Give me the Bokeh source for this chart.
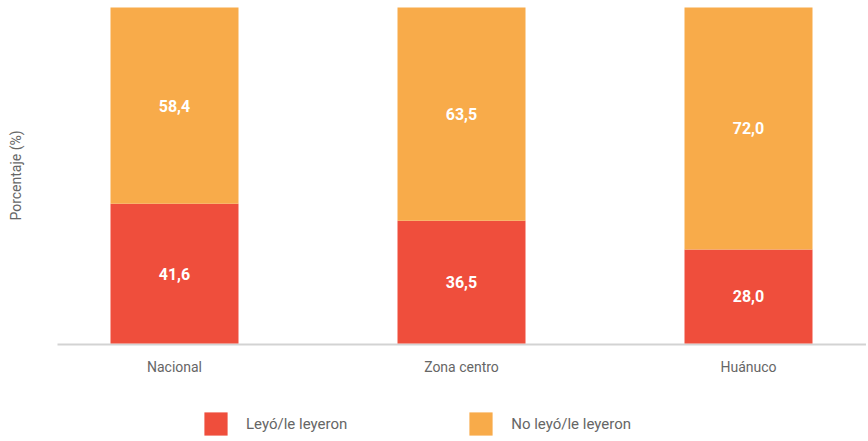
import math
from bokeh.plotting import figure
from bokeh.models import (ColumnDataSource, Range1d, Legend, LegendItem, LabelSet, Label,
                          BoxAnnotation)
from bokeh.core.properties import value
from bokeh.embed import file_html
from bokeh.resources import INLINE

categories = ["Nacional", "Zona centro", "Huánuco"]
leyo = [41.6, 36.5, 28.0]
no_leyo = [58.4, 63.5, 72.0]
series_names = ["Leyó/le leyeron", "No leyó/le leyeron"]
y_title = "Porcentaje (%)"

RED = "#EF4E3C"
ORANGE = "#F8AB4A"
GREY_TXT = "#666666"
FONT = "Roboto"

W, H = 866, 440
PX_PER_CAT = 287.0
PX_PER_PCT = 3.36
x_start = 0.5 - 174 / PX_PER_CAT
y_top = 100 + 7 / PX_PER_PCT

xs = [i + 0.5 for i in range(len(categories))]
src = ColumnDataSource(dict(
    x=xs,
    cat=categories,
    base=[0] * len(categories),
    top1=leyo,
    top2=[a + b for a, b in zip(leyo, no_leyo)],
    y1=[a / 2 for a in leyo],
    y2=[a + b / 2 for a, b in zip(leyo, no_leyo)],
    t1=[f"{v:.1f}".replace(".", ",") for v in leyo],
    t2=[f"{v:.1f}".replace(".", ",") for v in no_leyo],
))

p = figure(frame_width=W, frame_height=H, output_backend="svg", toolbar_location=None,
           x_range=Range1d(x_start, x_start + W / PX_PER_CAT),
           y_range=Range1d(y_top - H / PX_PER_PCT, y_top),
           x_axis_location=None, y_axis_location=None,
           min_border_left=0, min_border_right=0, min_border_top=0, min_border_bottom=0)
p.outline_line_color = None
p.grid.grid_line_color = None

r1 = p.vbar(x="x", width=0.446, bottom="base", top="top1", source=src, fill_color=RED, line_color=None)
r2 = p.vbar(x="x", width=0.446, bottom="top1", top="top2", source=src, fill_color=ORANGE, line_color=None)

# axis baseline (starts at the left edge of the former plotting area)
p.add_layout(BoxAnnotation(left=57, left_units="screen", bottom=95, bottom_units="screen",
                           top=97, top_units="screen", fill_color="#D3D3D3", fill_alpha=1,
                           line_color=None, level="underlay"))

for ycol, tcol in (("y1", "t1"), ("y2", "t2")):
    p.add_layout(LabelSet(x="x", y=ycol, text=tcol, source=src, text_align="center",
                          text_baseline="middle", text_color="white", text_font=value(FONT),
                          text_font_size="16px", text_font_style="bold"))

# category labels under the axis
p.add_layout(LabelSet(x="x", y="base", text="cat", source=src, y_offset=-23,
                      text_align="center", text_baseline="middle", text_color=GREY_TXT,
                      text_font=value(FONT), text_font_size="14px"))

# y-axis title
p.add_layout(Label(x=15, y=H - 175, x_units="screen", y_units="screen", text=y_title,
                   angle=math.pi / 2, text_align="center", text_baseline="middle",
                   text_color=GREY_TXT, text_font=FONT, text_font_size="14px"))

legend = Legend(items=[LegendItem(label=series_names[0], renderers=[r1]),
                       LegendItem(label=series_names[1], renderers=[r2])],
                orientation="horizontal", location=(201, 2),
                glyph_width=29, glyph_height=29, label_standoff=16, spacing=119,
                label_text_font=FONT, label_text_font_size="15px", label_text_color=GREY_TXT,
                border_line_color=None, background_fill_alpha=0, padding=0, margin=0)
p.add_layout(legend)

open("out.html", "w").write(file_html(p, INLINE))
